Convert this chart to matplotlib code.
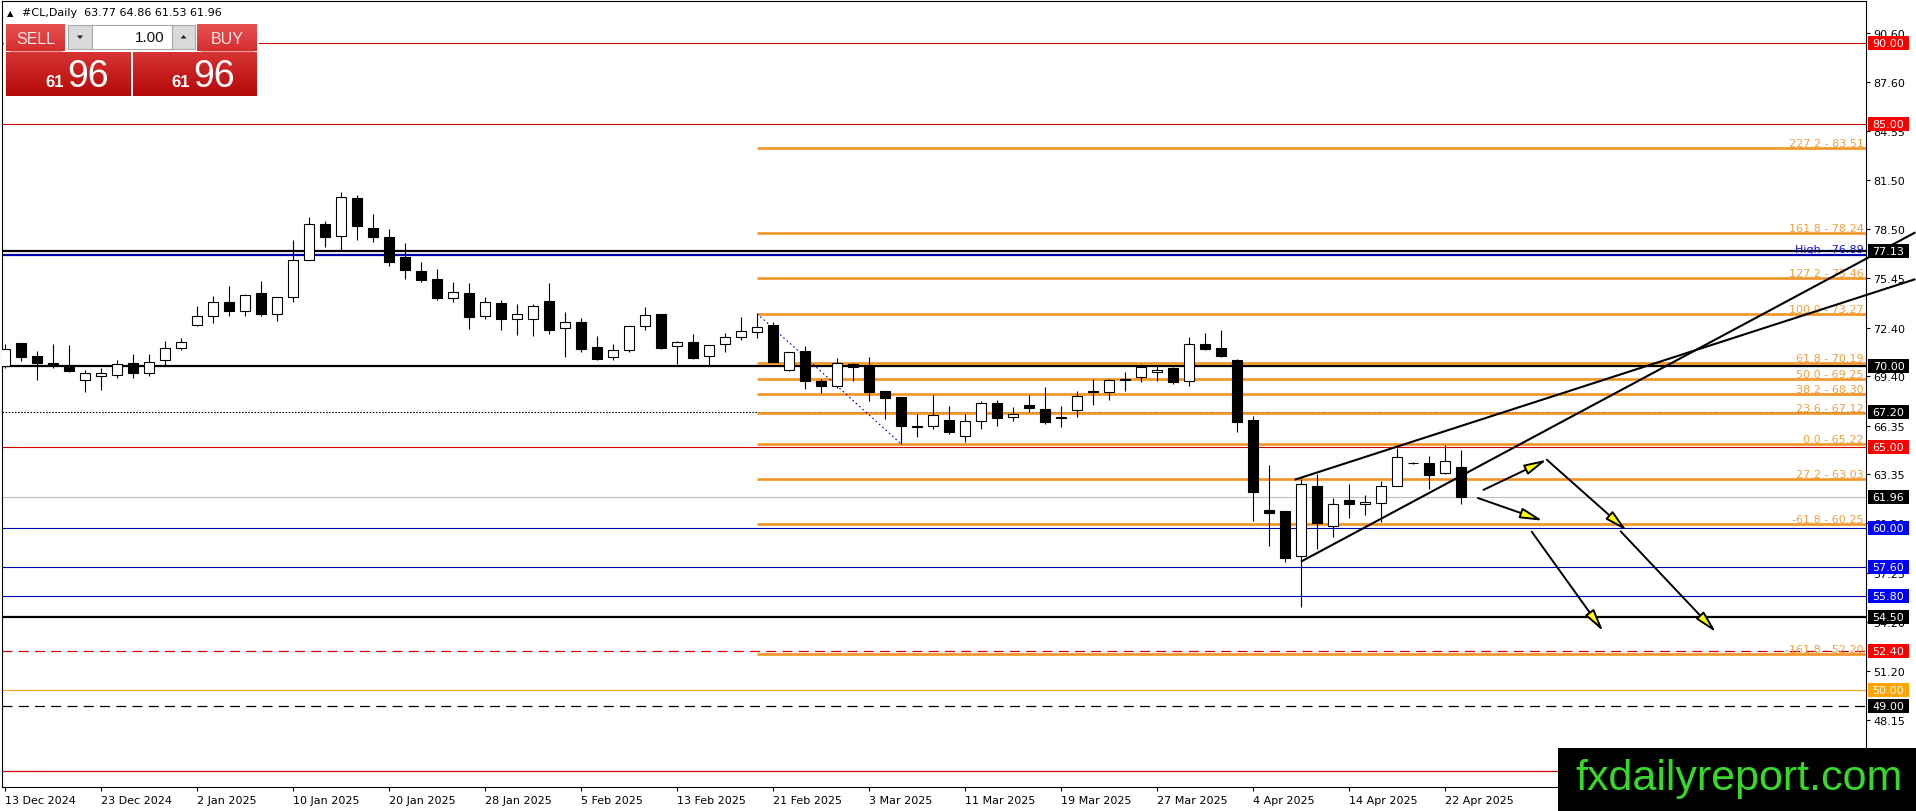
import numpy as np
import matplotlib
matplotlib.use("Agg")
import matplotlib.pyplot as plt
from matplotlib.patches import Rectangle, FancyArrowPatch, Polygon
from matplotlib.colors import LinearSegmentedColormap
from matplotlib import font_manager
import matplotlib.transforms as mtransforms

# ---------------- data ----------------
opens = [70.05, 71.45, 70.63, 70.22, 69.95, 69.19, 69.39, 69.50, 70.22, 69.58,
         70.42, 71.12, 72.59, 73.10, 74.01, 73.41, 74.52, 73.27, 74.28, 76.56,
         78.81, 78.09, 80.40, 78.56, 77.98, 76.75, 75.90, 75.41, 74.26, 74.52,
         73.14, 73.91, 72.96, 72.94, 74.03, 72.36, 72.73, 71.19, 70.56, 71.00,
         72.48, 73.25, 71.25, 71.50, 70.67, 71.39, 71.81, 72.11, 72.57, 69.81,
         70.94, 69.08, 68.77, 70.14, 70.05, 68.47, 68.10, 66.35, 66.30, 66.70,
         65.73, 66.61, 67.72, 66.86, 67.62, 67.37, 66.88, 67.31, 68.49, 68.41,
         69.23, 69.33, 69.68, 69.89, 69.08, 71.37, 71.12, 70.40, 66.72, 61.13,
         61.07, 58.31, 62.64, 60.17, 61.73, 61.53, 61.57, 62.64, 64.04, 64.02,
         63.42, 63.77]
highs = [71.39, 71.45, 70.94, 71.39, 71.33, 69.81, 69.91, 70.40, 70.77, 70.77,
         71.56, 71.76, 73.72, 74.34, 74.96, 74.48, 75.27, 74.32, 77.82, 79.22,
         79.02, 80.77, 80.60, 79.43, 78.50, 77.61, 76.44, 76.03, 75.20, 75.16,
         74.28, 74.11, 73.84, 73.86, 75.16, 73.35, 72.98, 71.91, 71.39, 72.52,
         73.66, 73.25, 71.56, 72.01, 71.35, 72.07, 73.04, 73.27, 72.73, 70.92,
         71.29, 69.23, 70.51, 70.20, 70.57, 68.47, 68.10, 67.07, 68.24, 67.58,
         67.07, 67.89, 67.95, 67.48, 68.24, 68.71, 67.58, 68.47, 69.23, 69.23,
         69.68, 70.16, 70.05, 69.95, 71.80, 72.07, 72.26, 70.45, 66.92, 63.91,
         61.07, 63.05, 63.36, 61.85, 62.74, 62.06, 62.95, 64.95, 64.10, 64.45,
         65.15, 64.86]
lows = [69.90, 70.36, 69.19, 69.91, 69.68, 68.45, 68.57, 69.29, 69.29, 69.44,
        70.09, 71.04, 72.53, 72.69, 73.14, 73.10, 73.14, 72.83, 74.01, 76.56,
        77.41, 77.20, 77.82, 77.72, 76.23, 75.41, 75.20, 74.13, 74.01, 72.32,
        72.94, 72.28, 71.97, 71.91, 72.01, 70.61, 70.92, 70.42, 70.42, 70.88,
        72.28, 71.10, 70.16, 70.46, 70.11, 70.88, 71.64, 71.74, 70.30, 69.75,
        68.61, 68.36, 68.70, 69.13, 67.89, 66.76, 65.22, 65.62, 66.14, 65.83,
        65.36, 66.14, 66.35, 66.61, 67.17, 66.45, 66.24, 66.86, 67.62, 67.95,
        68.51, 69.06, 69.13, 68.92, 68.82, 71.04, 70.57, 65.97, 60.47, 58.93,
        57.94, 55.12, 58.72, 59.44, 60.62, 60.82, 60.41, 62.60, 63.95, 62.43,
        63.36, 61.53]
closes = [71.08, 70.61, 70.24, 70.10, 69.74, 69.60, 69.60, 70.16, 69.62, 70.26,
          71.12, 71.50, 73.10, 74.01, 73.41, 74.42, 73.25, 74.28, 76.58, 78.81,
          78.03, 80.46, 78.71, 77.98, 76.44, 75.99, 75.37, 74.26, 74.59, 73.08,
          73.97, 72.94, 73.23, 73.76, 72.28, 72.73, 71.08, 70.46, 71.04, 72.48,
          73.18, 71.17, 71.50, 70.53, 71.35, 71.81, 72.18, 72.46, 70.30, 70.88,
          69.08, 68.82, 70.20, 69.95, 68.45, 68.03, 66.35, 66.24, 67.03, 65.93,
          66.61, 67.72, 66.80, 67.07, 67.42, 66.59, 66.80, 68.20, 68.41, 69.15,
          69.15, 69.99, 69.81, 69.02, 71.37, 71.08, 70.63, 66.59, 62.27, 60.93,
          58.19, 62.74, 60.33, 61.50, 61.53, 61.62, 62.60, 64.39, 64.02, 63.32,
          64.18, 61.96]

date_labels = ["13 Dec 2024", "23 Dec 2024", "2 Jan 2025", "10 Jan 2025", "20 Jan 2025",
               "28 Jan 2025", "5 Feb 2025", "13 Feb 2025", "21 Feb 2025", "3 Mar 2025",
               "11 Mar 2025", "19 Mar 2025", "27 Mar 2025", "4 Apr 2025", "14 Apr 2025",
               "22 Apr 2025"]
date_step = 6

price_ticks = [90.60, 87.60, 84.55, 81.50, 78.50, 75.45, 72.40, 69.40, 66.35,
               63.35, 60.30, 57.25, 54.20, 51.20, 48.15]

# horizontal levels: price, colour, width(pt), style, label-box colour
level_prices = [90.00, 85.00, 77.13, 76.89, 70.00, 67.20, 65.00, 61.96, 60.00,
                57.60, 55.80, 54.50, 52.40, 50.00, 49.00, 45.00]
level_colors = ["#D00000", "#D00000", "black", "#0000B0", "black", "black", "#D00000",
                "#C0C0C0", "#0000B0", "#0000B0", "#0000B0", "black", "#D00000",
                "#F2A81E", "black", "#D00000"]
level_widths = [0.8, 0.8, 1.6, 1.6, 1.6, 0.8, 0.8, 0.8, 0.8, 0.8, 0.8, 1.6, 0.9, 0.9, 0.9, 0.9]
level_styles = ["solid", "solid", "solid", "solid", "solid", "dotted", "solid", "solid",
                "solid", "solid", "solid", "solid", "dashed", "solid", "dashed", "solid"]
box_prices = [90.00, 85.00, 77.13, 70.00, 67.20, 65.00, 61.96, 60.00, 57.60, 55.80,
              54.50, 52.40, 50.00, 49.00, 45.00]
box_colors = ["#FF0000", "#FF0000", "black", "black", "black", "#FF0000", "black",
              "#0000FF", "#0000FF", "#0000FF", "black", "#FF0000", "#FFA500", "black",
              "#FF0000"]

fib_start = 47
fib_low_bar = 56
fib_high = 73.27
fib_low = 65.22
fib_names = ["227.2", "161.8", "127.2", "100.0", "61.8", "50.0", "38.2", "23.6",
             "0.0", "27.2", "-61.8", "-161.8"]
fib_values = [83.51, 78.24, 75.46, 73.27, 70.19, 69.25, 68.30, 67.12, 65.22,
              63.03, 60.25, 52.20]
high_label_value = 76.89

trend_x = [[81.0, 119.4], [80.6, 119.4]]
trend_y = [[57.94, 78.29], [63.00, 75.40]]

arrow_x0 = [92.40, 96.36, 100.98, 92.06, 95.42]
arrow_y0 = [62.37, 64.24, 59.81, 61.87, 59.79]
arrow_x1 = [96.36, 101.36, 106.94, 96.11, 99.89]
arrow_y1 = [64.24, 59.85, 53.57, 60.47, 53.63]

# ---------------- figure ----------------
W, H = 1916, 812
fig = plt.figure(figsize=(W / 100, H / 100), dpi=100)
fig.patch.set_facecolor("white")

names = {f.name for f in font_manager.fontManager.ttflist}
narrow = "Liberation Sans Narrow" if "Liberation Sans Narrow" in names else "Liberation Sans"

AX_L, AX_R, AX_T, AX_B = 2, 1866, 2, 788
ax = fig.add_axes([AX_L / W, (H - AX_B) / H, (AX_R - AX_L) / W, (AX_B - AX_T) / H])
px_per_bar = 16.0
x0_bar_px = 5.0
ax.set_xlim((AX_L - x0_bar_px) / px_per_bar, (AX_R - x0_bar_px) / px_per_bar)
ax.set_ylim(44.01, 92.59)
ax.set_facecolor("white")
for s in ax.spines.values():
    s.set_color("black")
    s.set_linewidth(0.8)

xmax = ax.get_xlim()[1]
ppu = (AX_B - AX_T) / (92.59 - 44.01)  # pixels per price unit

# levels
for p, c, lw, ls in zip(level_prices, level_colors, level_widths, level_styles):
    if ls == "dotted":
        ax.axhline(p, color=c, lw=lw, dashes=(1.4, 1.4), zorder=2)
    elif ls == "dashed":
        ax.axhline(p, color=c, lw=lw, dashes=(8, 5), zorder=2)
    else:
        ax.axhline(p, color=c, lw=lw, zorder=2)

# fibonacci
fib_line_color = "#F29423"
fib_text_color = "#F0A040"
ax.hlines(fib_values, fib_start, xmax, colors=fib_line_color, lw=1.9, zorder=3)
for n, v in zip(fib_names, fib_values):
    ax.text(0.9989, v + 2.0 / ppu, f"{n} - {v:.2f}", transform=mtransforms.blended_transform_factory(ax.transAxes, ax.transData),
            ha="right", va="baseline", color=fib_text_color, fontsize=8, family="DejaVu Sans", zorder=6)
ax.text(0.9989, high_label_value + 3.0 / ppu, f"High - {high_label_value:.2f}",
        transform=mtransforms.blended_transform_factory(ax.transAxes, ax.transData),
        ha="right", va="baseline", color="#1010D0", fontsize=8, family="DejaVu Sans", zorder=6)
ax.plot([fib_start, fib_low_bar], [fib_high, fib_low], color="#0000C0", lw=0.8,
        dashes=(1.5, 2.5), zorder=4)

# candles
bw = 0.64
for i, (o, h, l, c) in enumerate(zip(opens, highs, lows, closes)):
    ax.plot([i, i], [l, h], color="black", lw=0.8, zorder=7, solid_capstyle="butt")
    bull = c >= o
    lo, hi = min(o, c), max(o, c)
    ax.add_patch(Rectangle((i - bw / 2, lo), bw, max(hi - lo, 0.02),
                           facecolor="white" if bull else "black", edgecolor="black",
                           lw=0.8, zorder=8))

# trend lines (they run past the price scale like in the terminal)
for tx, ty in zip(trend_x, trend_y):
    ax.plot(tx, ty, color="black", lw=1.5, zorder=9, clip_on=False, solid_capstyle="butt")

# arrows
for xa, ya, xb, yb in zip(arrow_x0, arrow_y0, arrow_x1, arrow_y1):
    arr = FancyArrowPatch((xa, ya), (xb, yb), arrowstyle="-|>,head_length=1.35,head_width=0.32",
                          mutation_scale=10, facecolor="#FFFF00", edgecolor="black", lw=1.4,
                          zorder=10, shrinkA=0, shrinkB=0)
    ax.add_patch(arr)

# axes ticks
ax.yaxis.set_ticks_position("right")
ax.set_yticks(price_ticks)
ax.set_yticklabels([f"{t:.2f}" for t in price_ticks])
ax.tick_params(axis="y", direction="out", length=2.6, width=0.8, pad=2.6, labelsize=8,
               left=False, right=True, labelleft=False, labelright=True, colors="black")
xt = [k * date_step for k in range(len(date_labels))]
ax.set_xticks(xt)
ax.set_xticklabels(date_labels)
for lbl in ax.get_xticklabels():
    lbl.set_horizontalalignment("left")
ax.tick_params(axis="x", direction="out", length=3, width=0.8, pad=2.5, labelsize=8,
               bottom=True, top=False, colors="black")
for lbl in ax.get_xticklabels() + ax.get_yticklabels():
    lbl.set_family("DejaVu Sans")

# price boxes on the scale
bt = mtransforms.blended_transform_factory(ax.transAxes, ax.transData)
axw = AX_R - AX_L
for p, c in zip(box_prices, box_colors):
    ax.add_patch(Rectangle(((1868 - AX_L) / axw, p - 7 / ppu), 41 / axw, 14 / ppu,
                           transform=bt, facecolor=c, edgecolor="none", clip_on=False, zorder=11))
    ax.text((1888.5 - AX_L) / axw, p, f"{p:.2f}", transform=bt, ha="center", va="center",
            color="white", fontsize=8, family="DejaVu Sans", zorder=12, clip_on=False)

# ---------------- overlay (panel, title, watermark) ----------------
ov = fig.add_axes([0, 0, 1, 1], zorder=20)
ov.set_xlim(0, W)
ov.set_ylim(H, 0)
ov.axis("off")
ov.patch.set_visible(False)

ov.text(7, 13.5, "\u25B2", fontsize=6, va="center", ha="left", color="black", family="DejaVu Sans")
ov.text(22, 13.5, "#CL,Daily  63.77 64.86 61.53 61.96", fontsize=8, va="center", ha="left",
        color="black", family="DejaVu Sans")

grad = np.linspace(0, 1, 64).reshape(-1, 1)
cm_small = LinearSegmentedColormap.from_list("s", ["#E85252", "#D42E2E"])
cm_big = LinearSegmentedColormap.from_list("b", ["#D83434", "#B40808"])

ov.add_patch(Rectangle((4, 23), 255, 76, facecolor="white", edgecolor="none", zorder=1))
for (x0, x1) in [(6, 65), (197, 257)]:
    ov.imshow(grad, extent=(x0, x1, 52, 25), cmap=cm_small, aspect="auto", zorder=2)
    ov.plot([x0 + 4, x1 - 4], [52, 52], color="#F29A9A", lw=0.8, zorder=3)
for (x0, x1) in [(6, 131), (133, 257)]:
    ov.imshow(grad, extent=(x0, x1, 97, 53), cmap=cm_big, aspect="auto", zorder=2)

ov.add_patch(Rectangle((68, 26), 24, 24, facecolor="#DADADA", edgecolor="#A8A8A8", lw=0.8, zorder=3))
ov.add_patch(Rectangle((92, 26), 80, 24, facecolor="white", edgecolor="#A8A8A8", lw=0.8, zorder=3))
ov.add_patch(Rectangle((172, 26), 23, 24, facecolor="#DADADA", edgecolor="#A8A8A8", lw=0.8, zorder=3))
ov.add_patch(Polygon([[77, 36.5], [83, 36.5], [80, 40]], closed=True, facecolor="#222222", edgecolor="none", zorder=4))
ov.add_patch(Polygon([[180.5, 39.5], [186.5, 39.5], [183.5, 36]], closed=True, facecolor="#222222", edgecolor="none", zorder=4))
ov.text(165, 38, "1.00", fontsize=11, ha="right", va="center", color="#111111", family=narrow, zorder=5)
ov.text(35.5, 39, "SELL", fontsize=11.5, ha="center", va="center", color="#FFE6E6", family=narrow, zorder=5)
ov.text(227, 39, "BUY", fontsize=11.5, ha="center", va="center", color="#FFE6E6", family=narrow, zorder=5)
for xs, xb in [(63.5, 67), (189.5, 193)]:
    ov.text(xs, 87, "61", fontsize=12, fontweight="bold", ha="right", va="baseline", color="white",
            family="Liberation Sans", zorder=5)
    ov.text(xb, 87, "96", fontsize=27, ha="left", va="baseline", color="white",
            family=narrow, zorder=5)

# watermark
ov.add_patch(Rectangle((1558, 749), W - 1558, H - 749, facecolor="black", edgecolor="none", zorder=6))
ov.text(1575, 790, "fxdailyreport.com", fontsize=31, color="#36D82A", ha="left", va="baseline",
        family="Liberation Sans", zorder=7)
ov.set_xlim(0, W)
ov.set_ylim(H, 0)

fig.savefig("out.png", dpi=100, facecolor="white")
